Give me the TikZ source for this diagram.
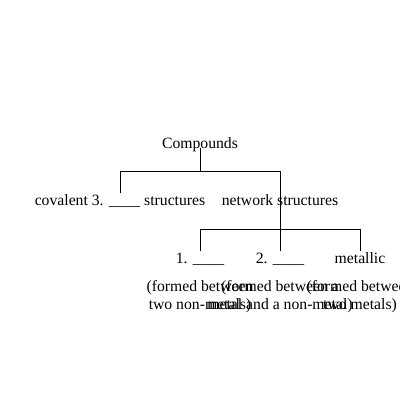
\documentclass[tikz,border=0pt]{standalone}
\usepackage{fontspec}
\setmainfont{Liberation Serif}
\begin{document}
\begin{tikzpicture}[x=1pt,y=-1pt,
  lbl/.style={inner sep=1pt,anchor=base,font=\fontsize{15.7}{17.3}\selectfont},
  note/.style={lbl,align=center},
  conn/.style={line width=1pt,black}]
\useasboundingbox (0,0) rectangle (400,400);
\node[lbl] (comp) at (200,148.3) {Compounds};
\node[lbl] (cov) at (120,205.5) {covalent 3. \_\_\_\_ structures};
\node[lbl] (net) at (280,205.5) {network structures};
\node[lbl] (n1) at (200,263) {1. \_\_\_\_};
\node[lbl] (n2) at (280,263) {2. \_\_\_\_};
\node[lbl] (met) at (360,263) {metallic};
\node[note] (d1) at (200,309) {(formed between\\two non-metals)};
\node[note] (d2) at (280,309) {(formed between a\\metal and a non-metal)};
\node[note] (d3) at (360,309) {(formed between\\two metals)};
\coordinate (h1c) at (200,171);
\coordinate (h1l) at (120,171);
\coordinate (h1r) at (280,171);
\coordinate (h2c) at (280,229);
\coordinate (h2l) at (200,229);
\coordinate (h2r) at (360,229);
\draw[conn] (comp.base) -- (h1c);
\draw[conn] (cov.north) -- (h1l) -- (h1r) -- (h2c);
\draw[conn] (n1.north) -- (h2l) -- (h2r) -- (met.north);
\draw[conn] (h2c) -- (n2.north);
\end{tikzpicture}
\end{document}
